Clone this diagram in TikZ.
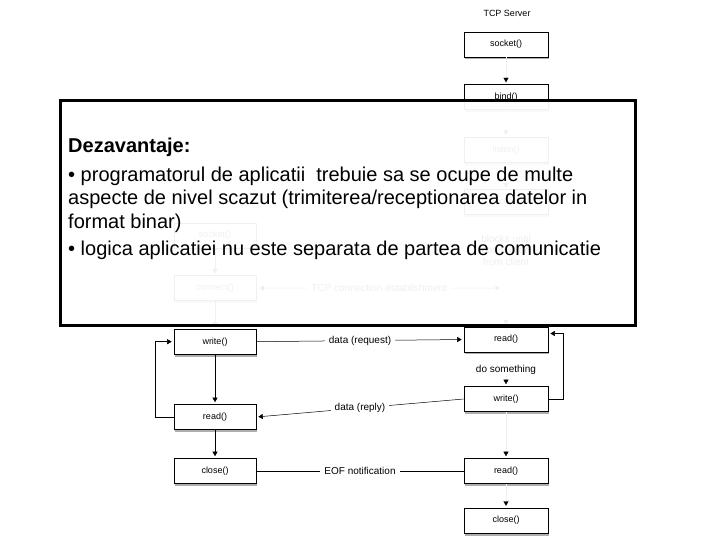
\documentclass[tikz,border=0pt]{standalone}
\usepackage{fontspec}
\setmainfont{Liberation Sans}
\usetikzlibrary{arrows.meta,positioning,shadows}
\tikzset{
  sockbox/.style={draw, line width=0.6pt, fill=white, minimum width=84pt, minimum height=25pt, inner sep=0pt, font=\fontsize{9}{10}\selectfont, drop shadow={shadow xshift=1pt, shadow yshift=-2.4pt, fill=black!70, opacity=0.45}},
  socktext/.style={align=center, inner sep=1pt, font=\fontsize{10}{11.5}\selectfont},
  socklabel/.style={fill=white, inner xsep=4pt, inner ysep=1pt, font=\fontsize{10}{11}\selectfont},
  sockarrow/.style={-{Triangle[width=5pt,length=4.5pt]}, line width=0.5pt, shorten >=2pt},
  sockboth/.style={{Triangle[width=5pt,length=4.5pt]}-{Triangle[width=5pt,length=4.5pt]}, line width=0.5pt, shorten <=3pt, shorten >=2pt},
  sockhead/.style={-{Triangle[width=5pt,length=4.5pt,black]}, draw=black!6, line width=0.4pt, shorten >=2pt},
  sockline/.style={line width=0.5pt},
  coverbox/.style={draw, line width=3pt, fill=white, fill opacity=0.94, minimum width=575pt, minimum height=224pt},
  covernote/.style={align=left, anchor=north west, inner sep=0pt, font=\fontsize{20}{23.5}\selectfont}
}

\begin{document}
\begin{tikzpicture}[x=1pt, y=-1pt, node distance=27pt]
\useasboundingbox (0,0) rectangle (720,540);

% server column
\node[socktext, font=\fontsize{9}{10}\selectfont] (stitle) at (507,13) {TCP Server};
\node[sockbox] (ssocket) at (506,44.5) {socket()};
\node[sockbox, below=of ssocket] (sbind) {bind()};
\node[sockbox, below=of sbind] (slisten) {listen()};
\node[sockbox, below=of slisten] (saccept) {accept()};
\node[socktext] (sblock) at (506,250) {blocks until\\connection\\from client};
\node[sockbox] (sread) at (506,339.5) {read()};
\node[socktext] (sdo) at (506,370) {do something};
\node[sockbox] (swrite) at (506,399) {write()};
\node[sockbox] (sreadeof) at (506,471) {read()};
\node[sockbox, below=24pt of sreadeof] (sclose) {close()};

% client column
\node[sockbox, minimum width=82pt] (csocket) at (215,235.5) {socket()};
\node[sockbox, minimum width=82pt, below=of csocket] (cconnect) {connect()};
\node[sockbox, minimum width=82pt, below=28pt of cconnect] (cwrite) {write()};
\node[sockbox, minimum width=82pt] (cread) at (215,417) {read()};
\node[sockbox, minimum width=82pt] (cclose) at (215,471) {close()};
\coordinate (sconn) at (502,288);

\draw[sockhead] (ssocket) -- (sbind);
\draw[sockhead] (sbind) -- (slisten);
\draw[sockhead] (slisten) -- (saccept);
\draw[sockhead] (sblock) -- (sread);
\draw[sockhead] (sdo) -- (swrite);
\draw[sockhead] (swrite) -- (sreadeof);
\draw[sockhead] (sreadeof) -- (sclose);
\draw[sockarrow] (swrite.east) -- ++(15,0) |- ([yshift=6pt]sread.east);

\draw[sockarrow] (csocket) -- (cconnect);
\draw[sockarrow] (cconnect) -- (cwrite);
\draw[sockarrow] (cwrite) -- (cread);
\draw[sockarrow] (cread) -- (cclose);
\draw[sockarrow] (cread.west) -- ++(-18,0) |- (cwrite.west);

\draw[sockboth] (cconnect.east) -- node[socklabel] {TCP connection establishment} (sconn);
\draw[sockarrow] (cwrite.east) -- node[socklabel] {data (request)} (sread.west);
\draw[sockarrow] (swrite.west) -- node[socklabel] {data (reply)} (cread.east);
\draw[sockline] (cclose) -- node[socklabel] {EOF notification} (sreadeof);

% overlay
\node[coverbox] (cover) at (347.5,213) {};
\node[covernote] (note) at (68,138) {\textbf{Dezavantaje:}\\[5pt]
• programatorul de aplicatii\ \ trebuie sa se ocupe de multe\\
aspecte de nivel scazut (trimiterea/receptionarea datelor in\\
format binar)\\[3.5pt]
• logica aplicatiei nu este separata de partea de comunicatie};
\end{tikzpicture}
\end{document}
